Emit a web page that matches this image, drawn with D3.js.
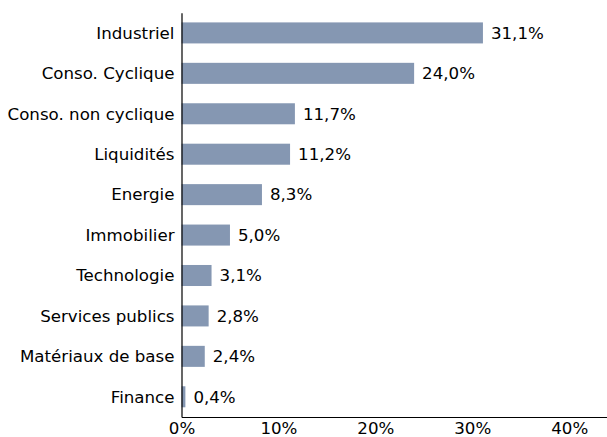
<!DOCTYPE html>
<html lang="fr">
<head>
  <meta charset="UTF-8" />
  <title>Répartition sectorielle</title>
  <script src="https://d3js.org/d3.v7.min.js"></script>
  <style>
    body { margin: 0; background: #fff; }
    svg text { font-family: "DejaVu Sans", sans-serif; }
    .axis path { stroke: #000; stroke-width: 1.2; }
    .axis text { font-size: 16.67px; fill: #000; }
    .value { font-size: 16.67px; fill: #000; }
  </style>
</head>
<body>
  <svg id="chart" width="607" height="437"></svg>

  <script>
  const sectors = [
    "Industriel", "Conso. Cyclique", "Conso. non cyclique", "Liquidités", "Energie",
    "Immobilier", "Technologie", "Services publics", "Matériaux de base", "Finance"
  ];
  const weights = [31.1, 24.0, 11.7, 11.2, 8.3, 5.0, 3.1, 2.8, 2.4, 0.4];
  const xTicks = [0, 10, 20, 30, 40];

  const svg = d3.select("#chart"),
        margin = { top: 12.7, right: 0, bottom: 20, left: 181.5 },
        width = +svg.attr("width") - margin.left - margin.right,
        height = +svg.attr("height") - margin.top - margin.bottom,
        g = svg.append("g").attr("transform", `translate(${margin.left},${margin.top})`);

  const fmt = v => v.toFixed(1).replace(".", ",") + "%";

  const x = d3.scaleLinear().domain([0, 43.9]).range([0, width]);
  const y = d3.scaleBand().domain(sectors).range([0, height]).paddingInner(0.48).paddingOuter(0.24);

  g.selectAll("rect.bar")
    .data(sectors)
    .join("rect")
      .attr("class", "bar")
      .attr("x", 0)
      .attr("y", d => y(d))
      .attr("width", (d, i) => x(weights[i]))
      .attr("height", y.bandwidth())
      .attr("fill", "#8597b2");

  g.selectAll("text.value")
    .data(sectors)
    .join("text")
      .attr("class", "value")
      .attr("x", (d, i) => x(weights[i]) + 8)
      .attr("y", d => y(d) + y.bandwidth() / 2)
      .attr("dy", "0.35em")
      .text((d, i) => fmt(weights[i]));

  g.append("g")
    .attr("class", "axis")
    .call(d3.axisLeft(y).tickSize(0).tickPadding(7))
    .call(a => a.selectAll("text").attr("dy", "0.35em"));

  g.append("g")
    .attr("class", "axis")
    .attr("transform", `translate(0,${height})`)
    .call(d3.axisBottom(x).tickValues(xTicks).tickSize(0).tickPadding(5).tickFormat(d => d + "%"));
  </script>
</body>
</html>
